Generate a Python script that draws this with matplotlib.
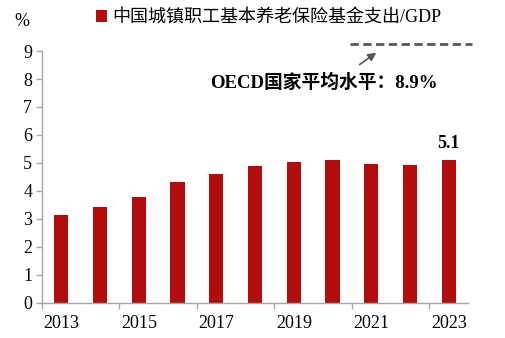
import matplotlib.pyplot as plt
import numpy as np

plt.rcParams['font.family'] = ['Liberation Serif', 'Noto Sans CJK SC']
plt.rcParams['axes.unicode_minus'] = False

years = [2013, 2014, 2015, 2016, 2017, 2018, 2019, 2020, 2021, 2022, 2023]
spend_gdp = [3.13, 3.42, 3.79, 4.31, 4.62, 4.89, 5.02, 5.1, 4.96, 4.94, 5.1]
series_name = '中国城镇职工基本养老保险基金支出/GDP'
oecd_text = 'OECD国家平均水平：8.9%'

bar_color = '#B20C0C'
axis_color = '#A6A6A6'

fig = plt.figure(figsize=(5.05, 3.38), dpi=100)
ax = fig.add_axes([0.083, 0.104, 0.844, 0.745])

x = np.arange(len(years))
ax.bar(x, spend_gdp, width=0.37, color=bar_color, label=series_name)

ax.set_xlim(-0.5, len(years) - 0.5)
ax.set_ylim(0, 9)
ax.set_yticks(range(0, 10))

# year labels on every other bar, tick marks on the group boundaries
ax.set_xticks(x[::2])
ax.set_xticklabels([str(y) for y in years[::2]])
ax.set_xticks(x[::2] - 0.5, minor=True)
ax.tick_params(axis='x', which='major', length=0, pad=9, labelsize=13)
ax.tick_params(axis='x', which='minor', length=4, color=axis_color, width=1)
ax.tick_params(axis='y', length=4, color=axis_color, width=1, labelsize=13, pad=3)

for s in ['top', 'right']:
    ax.spines[s].set_visible(False)
for s in ['left', 'bottom']:
    ax.spines[s].set_color(axis_color)
    ax.spines[s].set_linewidth(1)

# last value
ax.text(x[-1], spend_gdp[-1] + 0.3, f'{spend_gdp[-1]:.1f}', ha='center', va='bottom',
        fontsize=13, fontweight='bold')

# OECD reference: dashed bar, arrow and caption
ax.plot([0.723, 1.01], [1.028, 1.028], transform=ax.transAxes, color='#595959',
        lw=2, ls=(0, (3, 1.6)), clip_on=False)
ax.annotate('', xy=(0.79, 1.0), xytext=(0.74, 0.94), xycoords='axes fraction',
            arrowprops=dict(arrowstyle='-|>', color='#595959', lw=1.2, mutation_scale=12))
ax.text(0.661, 0.875, oecd_text, transform=ax.transAxes, ha='center', va='center',
        fontsize=13.5, fontweight='bold')

fig.text(0.044, 0.935, '%', ha='center', va='center', fontsize=13)
ax.legend(loc='upper left', bbox_to_anchor=(0.19, 0.972), frameon=False, fontsize=13,
          handlelength=0.6, handleheight=0.6, handletextpad=0.3, borderpad=0, borderaxespad=0,
          bbox_transform=fig.transFigure)

fig.savefig('out.png', dpi=100)
